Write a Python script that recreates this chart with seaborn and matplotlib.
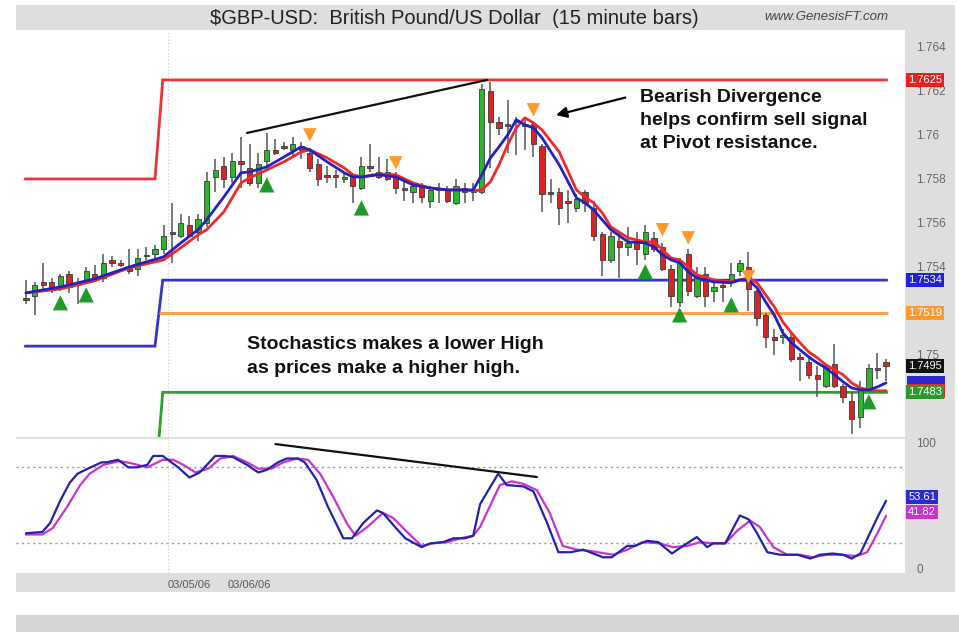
import numpy as np
import pandas as pd
import matplotlib
matplotlib.use("Agg")
import matplotlib.pyplot as plt
import matplotlib.transforms as mtransforms
from matplotlib.patches import Rectangle
import seaborn as sns

# ---- price bars (15 minute OHLC) ----
opens = [1.7526, 1.7527, 1.7533, 1.7533, 1.7531, 1.7537, 1.7533, 1.7534, 1.7537, 1.7535,
         1.7543, 1.7542, 1.7540, 1.7539, 1.7545, 1.7546, 1.7548, 1.7556, 1.7554, 1.7559,
         1.7556, 1.7560, 1.7581, 1.7586, 1.7581, 1.7588, 1.7585, 1.7578, 1.7588, 1.7593,
         1.7595, 1.7593, 1.7595, 1.7592, 1.7587, 1.7582, 1.7582, 1.7580, 1.7581, 1.7576,
         1.7586, 1.7583, 1.7583, 1.7581, 1.7576, 1.7574, 1.7577, 1.7570, 1.7576, 1.7575,
         1.7569, 1.7576, 1.7575, 1.7574, 1.7620, 1.7606, 1.7605, 1.7607, 1.7605, 1.7605,
         1.7595, 1.7574, 1.7574, 1.7570, 1.7567, 1.7574, 1.7567, 1.7555, 1.7543, 1.7552,
         1.7549, 1.7552, 1.7546, 1.7553, 1.7549, 1.7539, 1.7524, 1.7546, 1.7527, 1.7537,
         1.7529, 1.7532, 1.7533, 1.7538, 1.7540, 1.7529, 1.7518, 1.7508, 1.7508, 1.7508,
         1.7499, 1.7497, 1.7491, 1.7486, 1.7496, 1.7486, 1.7479, 1.7472, 1.7484, 1.7494,
         1.7497]
highs = [1.7534, 1.7533, 1.7542, 1.7535, 1.7537, 1.7538, 1.7535, 1.7540, 1.7541, 1.7546,
         1.7545, 1.7543, 1.7548, 1.7548, 1.7549, 1.7550, 1.7559, 1.7569, 1.7564, 1.7563,
         1.7564, 1.7583, 1.7589, 1.7590, 1.7592, 1.7599, 1.7596, 1.7592, 1.7601, 1.7598,
         1.7597, 1.7599, 1.7597, 1.7594, 1.7589, 1.7586, 1.7584, 1.7583, 1.7582, 1.7590,
         1.7596, 1.7590, 1.7589, 1.7583, 1.7579, 1.7578, 1.7578, 1.7577, 1.7578, 1.7577,
         1.7580, 1.7578, 1.7578, 1.7623, 1.7624, 1.7608, 1.7616, 1.7608, 1.7607, 1.7606,
         1.7596, 1.7580, 1.7576, 1.7575, 1.7573, 1.7575, 1.7570, 1.7556, 1.7556, 1.7556,
         1.7558, 1.7556, 1.7559, 1.7556, 1.7551, 1.7541, 1.7544, 1.7548, 1.7540, 1.7540,
         1.7534, 1.7533, 1.7542, 1.7543, 1.7547, 1.7530, 1.7519, 1.7512, 1.7512, 1.7510,
         1.7501, 1.7499, 1.7495, 1.7495, 1.7505, 1.7487, 1.7483, 1.7488, 1.7496, 1.7501,
         1.7498]
lows = [1.7523, 1.7518, 1.7530, 1.7528, 1.7529, 1.7528, 1.7523, 1.7533, 1.7534, 1.7533,
        1.7540, 1.7540, 1.7537, 1.7536, 1.7543, 1.7544, 1.7546, 1.7542, 1.7553, 1.7553,
        1.7552, 1.7558, 1.7574, 1.7576, 1.7578, 1.7576, 1.7577, 1.7576, 1.7584, 1.7591,
        1.7593, 1.7591, 1.7589, 1.7583, 1.7577, 1.7578, 1.7576, 1.7578, 1.7569, 1.7575,
        1.7583, 1.7580, 1.7579, 1.7573, 1.7570, 1.7569, 1.7569, 1.7567, 1.7569, 1.7569,
        1.7568, 1.7569, 1.7570, 1.7573, 1.7585, 1.7600, 1.7592, 1.7591, 1.7593, 1.7590,
        1.7565, 1.7569, 1.7559, 1.7560, 1.7565, 1.7565, 1.7552, 1.7536, 1.7542, 1.7535,
        1.7545, 1.7541, 1.7543, 1.7547, 1.7538, 1.7522, 1.7522, 1.7527, 1.7526, 1.7522,
        1.7524, 1.7524, 1.7531, 1.7536, 1.7520, 1.7513, 1.7503, 1.7500, 1.7505, 1.7497,
        1.7488, 1.7489, 1.7481, 1.7485, 1.7485, 1.7478, 1.7464, 1.7467, 1.7483, 1.7489,
        1.7488]
closes = [1.7525, 1.7532, 1.7532, 1.7530, 1.7536, 1.7531, 1.7532, 1.7538, 1.7535, 1.7542,
          1.7542, 1.7541, 1.7538, 1.7544, 1.7545, 1.7548, 1.7554, 1.7555, 1.7560, 1.7554,
          1.7562, 1.7579, 1.7584, 1.7580, 1.7588, 1.7587, 1.7578, 1.7587, 1.7593, 1.7592,
          1.7594, 1.7596, 1.7593, 1.7585, 1.7580, 1.7581, 1.7581, 1.7581, 1.7577, 1.7586,
          1.7585, 1.7581, 1.7580, 1.7576, 1.7575, 1.7577, 1.7572, 1.7575, 1.7575, 1.7570,
          1.7577, 1.7574, 1.7574, 1.7621, 1.7606, 1.7603, 1.7604, 1.7606, 1.7604, 1.7596,
          1.7573, 1.7573, 1.7567, 1.7569, 1.7571, 1.7569, 1.7554, 1.7543, 1.7554, 1.7549,
          1.7551, 1.7548, 1.7556, 1.7548, 1.7539, 1.7527, 1.7542, 1.7529, 1.7536, 1.7527,
          1.7531, 1.7531, 1.7537, 1.7542, 1.7530, 1.7517, 1.7508, 1.7507, 1.7509, 1.7498,
          1.7498, 1.7491, 1.7489, 1.7494, 1.7486, 1.7481, 1.7471, 1.7484, 1.7494, 1.7493,
          1.7495]

# ---- moving averages (blue = fast, red = slow) ----
ma_bar = [0, 4, 8, 12, 16, 18, 20, 21, 23, 25, 26, 28, 30, 32, 33, 35, 37, 38, 39, 41,
          43, 45, 47, 49, 51, 52, 53, 54, 55, 56, 57, 58, 59, 60, 62, 64, 65, 66, 67, 68,
          70, 72, 73, 74, 75, 76, 77, 78, 80, 82, 83, 84, 85, 86, 87, 88, 89, 90, 91, 92,
          93, 94, 95, 96, 97, 98, 99, 100]
ma_fast = [1.75282, 1.75309, 1.75346, 1.75400, 1.75446, 1.75509, 1.75569, 1.75614, 1.75718, 1.75828,
           1.75832, 1.75855, 1.75900, 1.75946, 1.75932, 1.75878, 1.75828, 1.75809, 1.75809, 1.75819,
           1.75809, 1.75773, 1.75759, 1.75750, 1.75750, 1.75750, 1.75819, 1.75896, 1.75946, 1.76000,
           1.76069, 1.76046, 1.76032, 1.75987, 1.75864, 1.75714, 1.75691, 1.75659, 1.75614, 1.75569,
           1.75514, 1.75509, 1.75491, 1.75455, 1.75432, 1.75419, 1.75378, 1.75350, 1.75332, 1.75328,
           1.75341, 1.75341, 1.75305, 1.75241, 1.75182, 1.75100, 1.75055, 1.75023, 1.74991, 1.74964,
           1.74941, 1.74910, 1.74878, 1.74850, 1.74841, 1.74841, 1.74855, 1.74873]
ma_slow = [1.75282, 1.75300, 1.75337, 1.75396, 1.75432, 1.75487, 1.75546, 1.75569, 1.75650, 1.75782,
           1.75805, 1.75841, 1.75878, 1.75923, 1.75932, 1.75896, 1.75850, 1.75819, 1.75809, 1.75823,
           1.75819, 1.75782, 1.75759, 1.75750, 1.75750, 1.75746, 1.75750, 1.75787, 1.75864, 1.75955,
           1.76032, 1.76078, 1.76055, 1.76023, 1.75923, 1.75750, 1.75718, 1.75691, 1.75646, 1.75582,
           1.75532, 1.75514, 1.75514, 1.75478, 1.75441, 1.75432, 1.75400, 1.75364, 1.75341, 1.75332,
           1.75341, 1.75350, 1.75328, 1.75273, 1.75219, 1.75150, 1.75100, 1.75055, 1.75014, 1.74987,
           1.74955, 1.74932, 1.74910, 1.74873, 1.74850, 1.74841, 1.74837, 1.74837]

# ---- buy / sell signal triangles ----
buy_bar = [4, 7, 28, 39, 72, 76, 82, 98]
buy_price = [1.75237, 1.75273, 1.75773, 1.75668, 1.75378, 1.75182, 1.75228, 1.74787]
sell_bar = [33, 43, 59, 74, 77, 84]
sell_price = [1.76000, 1.75873, 1.76114, 1.75569, 1.75532, 1.75355]

# ---- pivot levels: previous day -> today ----
pivot_names = ["R1", "Pivot", "S1", "S2"]
pivot_prev = [1.7580, 1.7504, np.nan, 1.7440]
pivot_today = [1.7625, 1.7534, 1.7519, 1.7483]
pivot_start, pivot_step, pivot_end = -0.1, 15.9, 100.1

# ---- stochastics ----
k_bar = [0, 1.9, 2.8, 4.0, 5.1, 6.0, 7.2, 8.8, 9.4, 10.7, 11.9, 12.9, 14.1, 14.8, 15.9, 16.5,
         17.7, 19.0, 20.2, 22.0, 23.1, 24.1, 25.7, 27.0, 28.0, 29.3, 30.3, 31.6, 32.4, 33.8,
         35.1, 36.9, 37.9, 39.2, 40.8, 41.5, 42.9, 44.1, 46.0, 47.0, 48.5, 49.7, 51.0, 52.0,
         52.8, 54.9, 55.9, 57.8, 59.0, 60.6, 61.9, 63.3, 64.8, 67.1, 68.1, 69.9, 70.8, 72.2,
         73.5, 75.1, 76.4, 78.0, 79.2, 79.9, 81.3, 83.0, 84.0, 85.0, 86.2, 87.7, 89.7, 91.2,
         92.3, 93.8, 95.0, 96.0, 97.0, 99.1, 100]
k_val = [28, 29, 36, 54, 68, 75, 79, 84, 84, 86, 80, 80, 82, 89, 89, 86,
         80, 72, 76, 89, 89, 88, 82, 76, 78, 84, 87, 87, 84, 70,
         49, 24, 24, 36, 46, 44, 33, 24, 17, 20, 21, 24, 24, 26,
         51, 75, 66, 65, 61, 36, 13, 13, 15, 9, 9, 18, 18, 22,
         21, 12, 18, 25, 17, 20, 20, 42, 39, 28, 13, 11, 11, 8,
         11, 12, 11, 8, 12, 42, 53.61]
d_bar = [0, 1.9, 3.1, 4.8, 6.3, 7.4, 9.0, 10.9, 12.4, 14.1, 15.9, 17.1, 18.3, 19.7, 21.2,
         22.6, 24.1, 25.7, 27.0, 28.6, 29.9, 31.5, 32.8, 34.2, 35.7, 37.3, 38.3, 39.7, 41.5,
         42.7, 44.3, 46.0, 47.3, 49.0, 50.5, 52.0, 52.8, 55.1, 56.5, 57.8, 59.4, 60.9, 62.4,
         64.1, 65.6, 68.3, 69.9, 71.7, 73.7, 75.2, 76.9, 78.4, 79.9, 81.3, 82.7, 84.2, 85.3,
         86.9, 88.5, 90.0, 91.5, 93.1, 94.7, 96.6, 97.8, 99.0, 100]
d_val = [27, 27, 32, 49, 66, 75, 82, 85, 83, 80, 86, 86, 82, 76, 79,
         87, 89, 84, 79, 79, 84, 87, 86, 75, 57, 36, 26, 33, 44,
         40, 29, 18, 20, 21, 24, 26, 33, 66, 69, 67, 62, 44, 18,
         15, 14, 11, 15, 21, 20, 17, 18, 21, 20, 20, 30, 38, 33,
         17, 11, 11, 9, 11, 11, 10, 13, 28, 41.82]

# tick labels that are not covered by the value boxes
price_ticks = [1.750, 1.754, 1.756, 1.758, 1.760, 1.762, 1.764]
date_bar = [19.0, 26.0]
date_labels = ["03/05/06", "03/06/06"]

sns.set_theme(style="white")
plt.rcParams["font.family"] = ["Liberation Sans", "DejaVu Sans"]

W, H = 959, 632
fig = plt.figure(figsize=(W / 100, H / 100), dpi=100)
fig.patch.set_facecolor("white")
fig.add_artist(Rectangle((16 / W, 1 - 592 / H), 939 / W, 587 / H, transform=fig.transFigure,
                         facecolor="#dedede", edgecolor="none", zorder=0))
fig.add_artist(Rectangle((16 / W, 0), 943 / W, 17 / H, transform=fig.transFigure,
                         facecolor="#d6d6d6", edgecolor="none", zorder=0))

ax1 = fig.add_axes([16 / W, 1 - 437 / H, 889 / W, 407 / H])
ax2 = fig.add_axes([16 / W, 1 - 573 / H, 889 / W, 134 / H])
for ax in (ax1, ax2):
    ax.set_facecolor("white")
    for s in ax.spines.values():
        s.set_visible(False)
    ax.set_xlim(-1.16, 102.2)
    ax.axvline(16.5, color="#cccccc", lw=0.8, ls=(0, (1, 2)), zorder=0)

ax1.set_ylim(1.74627, 1.76477)
ax2.set_ylim(-3.4, 102.4)

# pivot lines
piv_colors = ["#e8353a", "#3535c8", "#ff9a3c", "#2f9f2f"]
for prev, today, c in zip(pivot_prev, pivot_today, piv_colors):
    if np.isnan(prev):
        xs, ys = [pivot_step - 0.3, pivot_end], [today, today]
    else:
        xs = [pivot_start, pivot_step - 0.9, pivot_step, pivot_end]
        ys = [prev, prev, today, today]
    ax1.plot(xs, ys, color=c, lw=2, zorder=1, solid_joinstyle="miter")

# candles
bars = np.arange(len(opens))
o, h, l, c = map(np.array, (opens, highs, lows, closes))
ax1.vlines(bars, l, h, color="#555555", lw=1.1, zorder=2)
body_lo = np.minimum(o, c)
body_h = np.maximum(np.abs(c - o), 0.00004)
body_col = np.where(c > o, "#2bb52b", np.where(c < o, "#d82424", "#333333"))
ax1.bar(bars, body_h, bottom=body_lo, width=0.62, color=body_col, edgecolor="#3a3a3a",
        linewidth=0.6, zorder=3)

# moving averages
sns.lineplot(x=ma_bar, y=ma_slow, ax=ax1, color="#ee2a2a", lw=2, zorder=4)
sns.lineplot(x=ma_bar, y=ma_fast, ax=ax1, color="#2222c0", lw=2, zorder=4)

# signals
sns.scatterplot(x=buy_bar, y=buy_price, ax=ax1, marker="^", s=120, color="#1e9a28",
                edgecolor="none", zorder=5)
sns.scatterplot(x=sell_bar, y=sell_price, ax=ax1, marker="v", s=95, color="#ff9a2a",
                edgecolor="none", zorder=5)

# divergence line + annotations
ax1.plot([25.7, 53.6], [1.76009, 1.76250], color="#111111", lw=1.6, zorder=6)
ax1.annotate("", xy=(61.3, 1.76087), xytext=(70.0, 1.76173),
             arrowprops=dict(arrowstyle="-|>", color="black", lw=1.6, mutation_scale=16), zorder=6)
for txt, yv in zip(["Bearish Divergence", "helps confirm sell signal", "at Pivot resistance."],
                   [1.76169, 1.76064, 1.75959]):
    ax1.text(71.4, yv, txt, fontsize=14, fontweight="bold", va="center", ha="left", color="#111111")
for txt, yv in zip(["Stochastics makes a lower High", "as prices make a higher high."],
                   [1.75046, 1.74937]):
    ax1.text(25.7, yv, txt, fontsize=14, fontweight="bold", va="center", ha="left", color="#111111")

# right price axis
ax1.yaxis.tick_right()
ax1.set_yticks(price_ticks)
ax1.set_yticklabels([f"{v:g}" for v in price_ticks])
ax1.tick_params(axis="y", right=True, length=0, pad=8, labelsize=8.5, labelcolor="#666666")
ax1.set_xticks([])
ax1.set_xlabel("")
ax1.set_ylabel("")

trans1 = mtransforms.blended_transform_factory(ax1.transAxes, ax1.transData)
# moving-average value markers, mostly hidden behind the close / S2 boxes
for yv, col in [(1.74873, "#2a2ad0"), (1.74837, "#e02828")]:
    ax1.add_patch(Rectangle((1.0022, yv - 0.00032), 0.0428, 0.00064, transform=trans1,
                            clip_on=False, facecolor=col, edgecolor="none", zorder=9))
box_labels = [(1.7495, "1.7495", "#111111"), (1.7483, "1.7483", "#2a9a2a"),
              (1.7625, "1.7625", "#e82020"), (1.7534, "1.7534", "#2020e0"),
              (1.7519, "1.7519", "#ff9a30")]
for yv, txt, col in box_labels:
    ax1.text(1.0035, yv, txt, transform=trans1, fontsize=8, color="white", va="center", ha="left",
             clip_on=False, zorder=10,
             bbox=dict(boxstyle="square,pad=0.18", facecolor=col, edgecolor="none"))

# stochastics panel
ax2.axhline(80, color="#999999", lw=1, ls=(0, (1.5, 2.5)), zorder=1)
ax2.axhline(20, color="#999999", lw=1, ls=(0, (1.5, 2.5)), zorder=1)
sns.lineplot(x=d_bar, y=d_val, ax=ax2, color="#cc33cc", lw=1.6, zorder=3)
sns.lineplot(x=k_bar, y=k_val, ax=ax2, color="#2222b0", lw=1.6, zorder=4)
ax2.plot([29.0, 59.4], [98.4, 72.4], color="#111111", lw=1.6, zorder=5)
ax2.yaxis.tick_right()
ax2.set_yticks([0, 100])
ax2.set_yticklabels(["0", "100"])
ax2.tick_params(axis="y", right=True, length=0, pad=8, labelsize=8.5, labelcolor="#666666")
ax2.set_xticks(date_bar)
ax2.set_xticklabels(date_labels)
ax2.tick_params(axis="x", bottom=True, length=0, pad=5, labelsize=8, labelcolor="#555555")
ax2.set_xlabel("")
ax2.set_ylabel("")
trans2 = mtransforms.blended_transform_factory(ax2.transAxes, ax2.transData)
ax2.text(1.0035, 56.5, "53.61", transform=trans2, fontsize=8, color="white", va="center",
         ha="left", clip_on=False, zorder=10,
         bbox=dict(boxstyle="square,pad=0.18", facecolor="#2a2ad0", edgecolor="none"))
ax2.text(1.0035, 44.5, "41.82", transform=trans2, fontsize=8, color="white", va="center",
         ha="left", clip_on=False, zorder=10,
         bbox=dict(boxstyle="square,pad=0.18", facecolor="#cc33cc", edgecolor="none"))

# header
fig.text(454 / W, 1 - 18 / H, r"\$GBP-USD:  British Pound/US Dollar  (15 minute bars)",
         fontsize=14.5, ha="center", va="center", color="#222222")
fig.text(826 / W, 1 - 17 / H, "www.GenesisFT.com", fontsize=9.5, style="italic",
         ha="center", va="center", color="#444444")

fig.savefig("out.png", dpi=100)
